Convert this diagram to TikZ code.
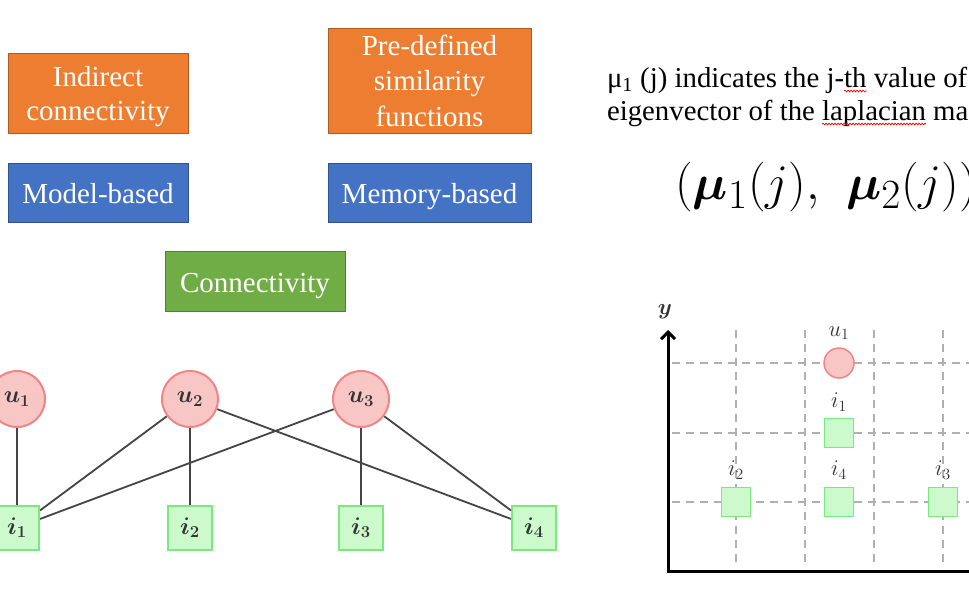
\documentclass[tikz,border=0pt]{standalone}
\usepackage{fontspec}
\setmainfont{Liberation Serif}
\usepackage{amsmath,bm,graphicx}
\usetikzlibrary{arrows.meta,decorations.pathmorphing,backgrounds}
\definecolor{boxorange}{HTML}{ED7D31}
\definecolor{boxorangeb}{HTML}{AE5A21}
\definecolor{boxblue}{HTML}{4472C4}
\definecolor{boxblueb}{HTML}{2F528F}
\definecolor{boxgreen}{HTML}{70AD47}
\definecolor{boxgreenb}{HTML}{507E32}
\definecolor{ufill}{HTML}{F9C6C6}
\definecolor{uline}{HTML}{F08585}
\definecolor{ifill}{HTML}{CCFACC}
\definecolor{iline}{HTML}{78EC78}
\definecolor{edgec}{HTML}{444444}
\definecolor{gridc}{HTML}{B0B0B0}
\definecolor{lblc}{HTML}{333333}
\newcommand{\glbl}[1]{\scalebox{1.16}{\fontsize{20.74}{24}\selectfont$\bm{#1}$}}
\newcommand{\plb}[1]{\scalebox{1.3}{\fontsize{17.28}{20}\selectfont$#1$}}
\tikzset{
  obox/.style={draw=boxorangeb, fill=boxorange, line width=1pt, inner sep=0pt},
  bbox/.style={draw=boxblueb, fill=boxblue, line width=1pt, inner sep=0pt},
  gbox/.style={draw=boxgreenb, fill=boxgreen, line width=1pt, inner sep=0pt},
  btext/.style={anchor=base, text=white, inner sep=0pt, font=\fontsize{29}{35}\selectfont},
  unode/.style={circle, draw=uline, fill=ufill, line width=2pt, minimum size=56pt, inner sep=0pt, text=lblc},
  inode/.style={rectangle, draw=iline, fill=ifill, line width=2pt, minimum size=44pt, inner sep=0pt, text=lblc},
  edge/.style={draw=edgec, line width=1.8pt},
  pu/.style={circle, draw=uline, fill=ufill, line width=1.5pt, minimum size=30pt, inner sep=0pt},
  pi/.style={rectangle, draw=iline, fill=ifill, line width=1.5pt, minimum size=29pt, inner sep=0pt},
  plbl/.style={text=lblc, inner sep=0pt},
  gridline/.style={draw=gridc, line width=1.2pt, dash pattern=on 8pt off 6pt},
  txt/.style={inner sep=0pt, outer sep=0pt, font=\fontsize{28.8}{33}\selectfont},
  spell/.style={draw=red, line width=0.7pt, decorate, decoration={snake, amplitude=0.9pt, segment length=3pt}},
}
\begin{document}
\begin{tikzpicture}[x=1pt,y=-1pt]
\useasboundingbox (0,0) rectangle (969,606);
\clip (0,0) rectangle (969,606);

% top-left category boxes
\node[obox, minimum width=180pt, minimum height=80pt] (ind) at (98,93) {};
\node[btext] (ind1) at (98,86) {Indirect};
\node[btext] (ind2) at (98,120) {connectivity};
\node[obox, minimum width=203pt, minimum height=105pt] (pre) at (429.5,80.5) {};
\node[btext] (pre1) at (429.5,55) {Pre-defined};
\node[btext] (pre2) at (429.5,90.5) {similarity};
\node[btext] (pre3) at (429.5,126) {functions};
\node[bbox, minimum width=180pt, minimum height=59pt] (mod) at (98,192.5) {};
\node[btext] (modt) at (98,203) {Model-based};
\node[bbox, minimum width=203pt, minimum height=59pt] (mem) at (429.5,192.5) {};
\node[btext] (memt) at (429.5,203) {Memory-based};
\node[gbox, minimum width=180pt, minimum height=60pt] (con) at (255,281) {};
\node[btext] (cont) at (255,292) {Connectivity};

% bipartite graph
\node[unode] (u1) at (17,399) {\glbl{u_1}};
\node[unode] (u2) at (190,399) {\glbl{u_2}};
\node[unode] (u3) at (361,399) {\glbl{u_3}};
\node[inode] (i1) at (17,527.5) {\glbl{i_1}};
\node[inode] (i2) at (190,527.5) {\glbl{i_2}};
\node[inode] (i3) at (361,527.5) {\glbl{i_3}};
\node[inode] (i4) at (534,527.5) {\glbl{i_4}};
\begin{pgfonlayer}{background}
\fill[white] (0,0) rectangle (969,606);
\path[edge] (u1) -- (i1);
\path[edge] (u2) -- (i1);
\path[edge] (u2) -- (i2);
\path[edge] (u2) -- (i4);
\path[edge] (u3) -- (i1);
\path[edge] (u3) -- (i3);
\path[edge] (u3) -- (i4);
\end{pgfonlayer}

% explanatory text
\node[txt, anchor=base west] (l1a) at (607,87) {μ\textsubscript{1} (j) indicates the j-};
\node[txt, anchor=base west] (l1b) at (l1a.base east) {th};
\node[txt, anchor=base west] (l1c) at (l1b.base east) {\ value of};
\node[txt, anchor=base west] (l2a) at (607,120) {eigenvector of the};
\node[txt, anchor=base west] (l2b) at ([xshift=7.2pt]l2a.base east) {laplacian};
\node[txt, anchor=base west] (l2c) at (l2b.base east) {\ ma};
\path[spell] ([yshift=-4pt]l1b.base west) -- ([yshift=-4pt]l1b.base east);
\path[spell] ([yshift=-4pt]l2b.base west) -- ([yshift=-4pt]l2b.base east);

% formula
\node[inner sep=0pt, anchor=base west] (form) at (675,199) {\scalebox{2.0}{\fontsize{24.88}{28}\selectfont$(\bm{\mu}_1(j),\ \mkern2mu\bm{\mu}_2(j))$}};

% plot
\coordinate (o) at (668,571);
\coordinate (ytop) at (668,330);
\coordinate (xend) at (975,571);
\foreach \gx in {736,805,874,943} {\path[gridline] (\gx,330) -- (\gx,567);}
\foreach \gy in {363,433,502} {\path[gridline] (672,\gy) -- (975,\gy);}
\draw[line width=3pt, -{Straight Barb[length=7pt,width=14pt,line width=3pt]}] (o) -- (ytop);
\draw[line width=3pt] ([xshift=-1.5pt]o) -- (xend);
\node[plbl] (ylbl) at (665,312) {\plb{\bm{y}}};

\node[pu] (pu1) at (839,363) {};
\node[pi] (pi1) at (839,433) {};
\node[pi] (pi2) at (736,502) {};
\node[pi] (pi4) at (839,502) {};
\node[pi] (pi3) at (943,502) {};
\node[plbl] (lu1) at (839,333) {\plb{u_1}};
\node[plbl] (li1) at (839,402) {\plb{i_1}};
\node[plbl] (li2) at (736,470) {\plb{i_2}};
\node[plbl] (li4) at (839,470) {\plb{i_4}};
\node[plbl] (li3) at (943,470) {\plb{i_3}};
\end{tikzpicture}
\end{document}
